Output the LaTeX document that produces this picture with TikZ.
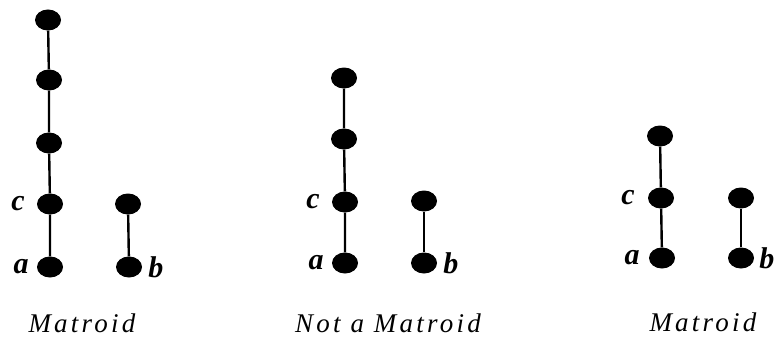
\documentclass[tikz,border=0pt]{standalone}
\usepackage{fontspec}
\setmainfont{Liberation Serif}
\newfontfamily\captionfont[LetterSpace=12]{Liberation Serif}
\usetikzlibrary{positioning, shapes.geometric}
\tikzset{atom/.style = {ellipse, fill = black, inner sep = 0pt,
    minimum width = 26pt, minimum height = 21pt},
    edge/.style = {line width = 2.4pt},
    elname/.style = {font = \fontsize{30}{30}\selectfont\bfseries\itshape,
    inner sep = 0pt},
    verdict/.style = {font = \fontsize{27}{27}\selectfont\captionfont\itshape,
    inner sep = 0pt, anchor = base}
}

\begin{document}
\begin{tikzpicture}[x = 1pt, y = -1pt]

    \useasboundingbox (0,0) rectangle (778,337);

    % first lattice: chain of five, plus b
    \node (pA1) [atom] at (50,267) {};
    \node (pC1) [atom] at (50,204) {};
    \node (pD1) [atom] at (49,143) {};
    \node (pE1) [atom] at (49,80) {};
    \node (pF1) [atom] at (48,20) {};
    \node (pB1) [atom] at (129,267) {};
    \node (pG1) [atom] at (128,204) {};

    \draw[edge] (pA1) -- (pC1) -- (pD1) -- (pE1) -- (pF1);
    \draw[edge] (pB1) -- (pG1);

    \node (nA1) [elname, left = 8pt of pA1] {a};
    \node (nC1) [elname, left = 12pt of pC1] {c};
    \node (nB1) [elname, right = 6pt of pB1] {b};
    \node (cap1) [verdict] at (82,332) {Matroid};

    % second lattice: chain of four, plus b
    \node (pA2) [atom] at (345,263) {};
    \node (pC2) [atom] at (345,202) {};
    \node (pD2) [atom] at (344,139) {};
    \node (pE2) [atom] at (344,78) {};
    \node (pB2) [atom] at (424,263) {};
    \node (pG2) [atom] at (424,201) {};

    \draw[edge] (pA2) -- (pC2) -- (pD2) -- (pE2);
    \draw[edge] (pB2) -- (pG2);

    \node (nA2) [elname, left = 8pt of pA2] {a};
    \node (nC2) [elname, left = 12pt of pC2] {c};
    \node (nB2) [elname, right = 6pt of pB2] {b};
    \node (cap2) [verdict] at (388,332) {Not a Matroid};

    % third lattice: chain of three, plus b
    \node (pA3) [atom] at (662,258) {};
    \node (pC3) [atom] at (661,198) {};
    \node (pD3) [atom] at (660,136) {};
    \node (pB3) [atom] at (741,258) {};
    \node (pG3) [atom] at (741,198) {};

    \draw[edge] (pA3) -- (pC3) -- (pD3);
    \draw[edge] (pB3) -- (pG3);

    \node (nA3) [elname, left = 9pt of pA3] {a};
    \node (nC3) [elname, left = 13pt of pC3] {c};
    \node (nB3) [elname, right = 5pt of pB3] {b};
    \node (cap3) [verdict] at (703,331) {Matroid};

\end{tikzpicture}
\end{document}
